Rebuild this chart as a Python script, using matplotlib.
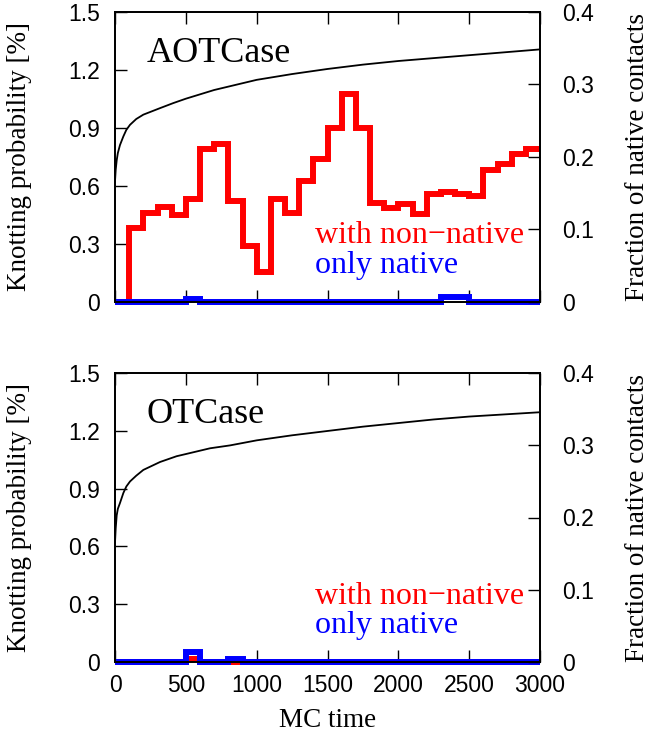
import matplotlib
matplotlib.use("Agg")
import matplotlib.pyplot as plt

# ---------------- data ----------------
bin_edges = [0, 100, 200, 300, 400, 500, 600, 700, 800, 900, 1000, 1100, 1200, 1300, 1400,
             1500, 1600, 1700, 1800, 1900, 2000, 2100, 2200, 2300, 2400, 2500, 2600, 2700,
             2800, 2900, 3000]

aot_nonnative = [0.0, 0.38, 0.46, 0.49, 0.45, 0.53, 0.79, 0.815, 0.52, 0.29, 0.155, 0.53,
                 0.46, 0.625, 0.74, 0.9, 1.075, 0.9, 0.51, 0.485, 0.505, 0.455, 0.555,
                 0.565, 0.555, 0.548, 0.68, 0.71, 0.765, 0.79]
aot_native = [0, 0, 0, 0, 0, 0.014, 0, 0, 0, 0, 0, 0, 0, 0, 0, 0, 0, 0, 0, 0, 0, 0, 0,
              0.022, 0.022, 0, 0, 0, 0, 0]

ot_nonnative = [0, 0, 0, 0, 0, 0.012, 0, 0, 0, 0, 0, 0, 0, 0, 0, 0, 0, 0, 0, 0, 0, 0, 0,
                0, 0, 0, 0, 0, 0, 0]
ot_native = [0, 0, 0, 0, 0, 0.052, 0, 0, 0.015, 0, 0, 0, 0, 0, 0, 0, 0, 0, 0, 0, 0, 0, 0,
             0, 0, 0, 0, 0, 0, 0]

aot_t = [0, 5, 12, 20, 35, 59, 80, 106, 150, 200, 318, 412, 500, 700, 1000, 1250, 1500,
         1750, 2000, 2250, 2500, 2750, 3000]
aot_q = [0.166, 0.182, 0.195, 0.205, 0.216, 0.228, 0.237, 0.244, 0.252, 0.258, 0.267,
         0.274, 0.280, 0.292, 0.306, 0.314, 0.321, 0.327, 0.332, 0.336, 0.340, 0.344, 0.348]

ot_t = [0, 5, 12, 20, 35, 59, 80, 106, 150, 200, 318, 435, 500, 671, 812, 1000, 1250, 1500,
        1750, 2000, 2250, 2500, 2750, 3000]
ot_q = [0.165, 0.185, 0.203, 0.212, 0.220, 0.234, 0.243, 0.250, 0.258, 0.266, 0.277, 0.285,
        0.288, 0.296, 0.300, 0.307, 0.314, 0.320, 0.326, 0.331, 0.336, 0.340, 0.343, 0.346]

left_ticks = [0, 0.3, 0.6, 0.9, 1.2, 1.5]
left_labels = ["0", "0.3", "0.6", "0.9", "1.2", "1.5"]
right_ticks = [0, 0.1, 0.2, 0.3, 0.4]
right_labels = ["0", "0.1", "0.2", "0.3", "0.4"]
x_ticks = [0, 500, 1000, 1500, 2000, 2500, 3000]
x_labels = ["0", "500", "1000", "1500", "2000", "2500", "3000"]

titles = ["AOTCase", "OTCase"]

# ---------------- figure ----------------
W, H = 654, 743
fig = plt.figure(figsize=(W / 100, H / 100), dpi=100)

serif = "Liberation Serif"
sans = "Liberation Sans"

panels = [
    dict(rect=[115 / W, 1 - 301.7 / H, 425 / W, 290 / H], nn=aot_nonnative, nat=aot_native,
         t=aot_t, q=aot_q, title=titles[0], xlab=False),
    dict(rect=[115 / W, 1 - 661.7 / H, 425 / W, 288.4 / H], nn=ot_nonnative, nat=ot_native,
         t=ot_t, q=ot_q, title=titles[1], xlab=True),
]

for p in panels:
    ax = fig.add_axes(p["rect"])
    ax.stairs(p["nn"], bin_edges, color="#ff0000", lw=4.3, baseline=None, clip_on=False,
              zorder=2)
    ax.stairs(p["nat"], bin_edges, color="#0000ff", lw=4.3, baseline=None, clip_on=False,
              zorder=2.1)
    ax.set_xlim(0, 3000)
    ax.set_ylim(0, 1.5)
    ax.set_yticks(left_ticks)
    ax.set_yticklabels(left_labels, fontfamily=sans, fontsize=16.5)
    ax.set_xticks(x_ticks)
    if p["xlab"]:
        ax.set_xticklabels(x_labels, fontfamily=sans, fontsize=16.5)
        ax.set_xlabel("MC time", fontfamily=serif, fontsize=19.5, labelpad=8)
    else:
        ax.set_xticklabels([])
    ax.tick_params(axis="both", direction="in", length=8.5, width=1.0, top=True,
                   right=False, color="black")
    ax.tick_params(axis="y", pad=11)
    ax.tick_params(axis="x", pad=9)
    ax.set_ylabel("Knotting probability [%]", fontfamily=serif, fontsize=19.5, labelpad=26)
    for s in ax.spines.values():
        s.set_linewidth(1.3)

    ax.text(0.075, 0.828, p["title"], transform=ax.transAxes, fontfamily=serif,
            fontsize=26, ha="left", va="baseline", color="black", zorder=5)
    ax.text(0.47, 0.201, "with non\u2212native", transform=ax.transAxes, fontfamily=serif,
            fontsize=23, ha="left", va="baseline", color="#ff0000", zorder=5)
    ax.text(0.47, 0.10, "only native", transform=ax.transAxes, fontfamily=serif,
            fontsize=23, ha="left", va="baseline", color="#0000ff", zorder=5)

    ax2 = ax.twinx()
    ax2.plot(p["t"], p["q"], color="black", lw=1.3)
    ax2.set_ylim(0, 0.4)
    ax2.set_yticks(right_ticks)
    ax2.set_yticklabels(right_labels, fontfamily=sans, fontsize=16.5)
    ax2.tick_params(axis="y", direction="in", length=8.5, width=1.0, pad=16)
    ax2.set_ylabel("Fraction of native contacts", fontfamily=serif, fontsize=19.5,
                   rotation=90, labelpad=22)
    for s in ax2.spines.values():
        s.set_linewidth(1.3)
    ax2.patch.set_visible(False)

fig.savefig("out.png", dpi=100)
